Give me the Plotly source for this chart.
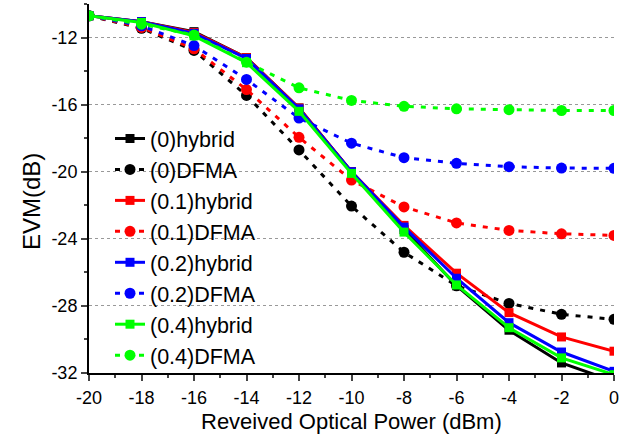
import plotly.graph_objects as go

power = [-20, -18, -16, -14, -12, -10, -8, -6, -4, -2, 0]

hyb_0 = [-10.7, -11.05, -11.65, -13.2, -16.2, -20.0, -23.45, -26.8, -29.45, -31.4, -32.5]
dfma_0 = [-10.7, -11.45, -12.77, -15.45, -18.7, -22.05, -24.8, -26.8, -27.85, -28.5, -28.8]
hyb_01 = [-10.7, -11.05, -11.7, -13.2, -16.2, -20.0, -23.2, -26.05, -28.4, -29.85, -30.7]
dfma_01 = [-10.7, -11.4, -12.67, -15.1, -17.95, -20.5, -22.1, -23.05, -23.5, -23.7, -23.8]
hyb_02 = [-10.7, -11.05, -11.75, -13.25, -16.25, -20.0, -23.3, -26.35, -29.0, -30.75, -31.9]
dfma_02 = [-10.7, -11.3, -12.48, -14.5, -16.8, -18.3, -19.16, -19.5, -19.7, -19.78, -19.8]
hyb_04 = [-10.7, -11.1, -11.9, -13.5, -16.4, -20.1, -23.6, -26.75, -29.3, -31.1, -32.1]
dfma_04 = [-10.7, -11.2, -11.85, -13.47, -15.0, -15.75, -16.1, -16.25, -16.3, -16.35, -16.35]

x_tickvals = [-20, -18, -16, -14, -12, -10, -8, -6, -4, -2, 0]
x_ticktext = ["-20", "-18", "-16", "-14", "-12", "-10", "-8", "-6", "-4", "-2", "0"]
y_tickvals = [-32, -28, -24, -20, -16, -12]
y_ticktext = ["-32", "-28", "-24", "-20", "-16", "-12"]

x_title = "Reveived Optical Power (dBm)"
y_title = "EVM(dB)"

series = [
    ("(0)hybrid", hyb_0, "#000000", True),
    ("(0)DFMA", dfma_0, "#000000", False),
    ("(0.1)hybrid", hyb_01, "#FF0000", True),
    ("(0.1)DFMA", dfma_01, "#FF0000", False),
    ("(0.2)hybrid", hyb_02, "#0000FF", True),
    ("(0.2)DFMA", dfma_02, "#0000FF", False),
    ("(0.4)hybrid", hyb_04, "#00FF00", True),
    ("(0.4)DFMA", dfma_04, "#00FF00", False),
]

fig = go.Figure()
for name, vals, color, solid in series:
    fig.add_trace(go.Scatter(
        x=power, y=vals, name=name, mode="lines+markers",
        line=dict(color=color, width=3, dash="solid" if solid else "5px,7px"),
        marker=dict(symbol="square" if solid else "circle", size=9 if solid else 11,
                    color=color),
    ))

font = "Arial, Liberation Sans, sans-serif"
W, H = 631, 438
L, R, T, B = 89, 17, 4, 65
fig.update_layout(
    width=W, height=H,
    margin=dict(l=L, r=R, t=T, b=B, autoexpand=False),
    paper_bgcolor="white", plot_bgcolor="white",
    font=dict(family=font, size=18, color="black"),
    showlegend=True,
    legend=dict(x=0.04, y=0.691, xanchor="left", yanchor="top",
                bgcolor="rgba(0,0,0,0)", font=dict(size=21.5, family=font),
                tracegroupgap=0),
    xaxis=dict(range=[-20, 0], tickmode="array", tickvals=x_tickvals, ticktext=x_ticktext,
               ticks="outside", ticklen=6, tickwidth=1.5,
               showline=True, linecolor="black", linewidth=2, showgrid=False, zeroline=False,
               minor=dict(tickmode="linear", tick0=-20, dtick=1, ticks="outside", ticklen=3, tickwidth=1.5),
               tickfont=dict(size=18), ticklabelstandoff=1, automargin=False),
    yaxis=dict(range=[-32, -10], tickmode="array", tickvals=y_tickvals, ticktext=y_ticktext,
               ticks="outside", ticklen=6, tickwidth=1.5,
               showline=True, linecolor="black", linewidth=2, zeroline=False,
               showgrid=True, gridcolor="#999999", griddash="dot", gridwidth=1,
               minor=dict(tickmode="linear", tick0=-32, dtick=2, ticks="outside", ticklen=3,
                          tickwidth=1.5, showgrid=False),
               tickfont=dict(size=18), automargin=False),
    xaxis2=dict(range=[-20, 0], overlaying="x", side="top", dtick=2, tick0=-20,
                ticks="inside", ticklen=6, tickwidth=1.5, showticklabels=False,
                showline=True, linecolor="black", linewidth=2, showgrid=False, zeroline=False,
                minor=dict(dtick=1, ticks="inside", ticklen=3, tickwidth=1.5), automargin=False),
    yaxis2=dict(range=[-32, -10], overlaying="y", side="right", dtick=4, tick0=-32,
                ticks="inside", ticklen=6, tickwidth=1.5, showticklabels=False,
                showline=True, linecolor="black", linewidth=2, showgrid=False, zeroline=False,
                minor=dict(dtick=2, ticks="inside", ticklen=3, tickwidth=1.5), automargin=False),
    annotations=[
        dict(text=x_title, xref="paper", yref="paper", x=0.5, y=-(421 - (H - B)) / (H - T - B),
             xanchor="center", yanchor="middle", showarrow=False, font=dict(size=22)),
        dict(text=y_title, xref="paper", yref="paper", x=-(L - 31) / (W - L - R),
             y=((H - B) - 202) / (H - T - B), textangle=-90,
             xanchor="center", yanchor="middle", showarrow=False, font=dict(size=24)),
    ],
)
fig.write_html("out.html", config={"displayModeBar": False},
               post_script="document.body.style.margin='0';")
